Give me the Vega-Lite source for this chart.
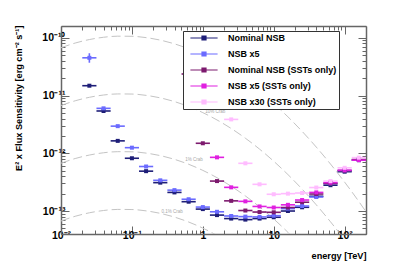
{
  "$schema": "https://vega.github.io/schema/vega-lite/v6.json",
  "width": 305,
  "height": 208,
  "autosize": {"type": "none"},
  "padding": {"left": 61, "top": 26, "right": 41, "bottom": 27},
  "background": "white",
  "config": {
    "view": {"stroke": null},
    "font": "Liberation Sans",
    "axis": {"domainColor": "#666", "domainWidth": 1.5, "tickColor": "#666", "grid": false,
      "labelFont": "Liberation Sans", "labelFontWeight": "bold", "labelFontSize": 10.5, "labelColor": "black",
      "titleFont": "Liberation Sans", "titleFontWeight": "bold", "titleFontSize": 9.2, "titleColor": "black"}
  },
  "datasets": {
    "crab": [
      {"c": "100%", "E": 0.01, "S": 6.725e-11}, {"c": "100%", "E": 0.01585, "S": 8.11e-11}, {"c": "100%", "E": 0.02512, "S": 9.318e-11}, {"c": "100%", "E": 0.03981, "S": 1.0207e-10}, {"c": "100%", "E": 0.0631, "S": 1.0659e-10}, {"c": "100%", "E": 0.1, "S": 1.061e-10}, {"c": "100%", "E": 0.1585, "S": 1.0067e-10}, {"c": "100%", "E": 0.2512, "S": 9.109e-11}, {"c": "100%", "E": 0.3981, "S": 7.852e-11}, {"c": "100%", "E": 0.631, "S": 6.453e-11}, {"c": "100%", "E": 1, "S": 5.055e-11}, {"c": "100%", "E": 1.585, "S": 3.776e-11}, {"c": "100%", "E": 2.512, "S": 2.688e-11}, {"c": "100%", "E": 3.981, "S": 1.824e-11}, {"c": "100%", "E": 6.31, "S": 1.18e-11}, {"c": "100%", "E": 10, "S": 7.277e-12}, {"c": "100%", "E": 15.85, "S": 4.277e-12}, {"c": "100%", "E": 25.12, "S": 2.396e-12}, {"c": "100%", "E": 39.81, "S": 1.28e-12}, {"c": "100%", "E": 63.1, "S": 6.516e-13}, {"c": "100%", "E": 100, "S": 3.162e-13}, {"c": "100%", "E": 158.5, "S": 1.463e-13}, {"c": "100%", "E": 251.2, "S": 6.45e-14},
      {"c": "10%", "E": 0.01, "S": 6.725e-12}, {"c": "10%", "E": 0.01585, "S": 8.11e-12}, {"c": "10%", "E": 0.02512, "S": 9.318e-12}, {"c": "10%", "E": 0.03981, "S": 1.0207e-11}, {"c": "10%", "E": 0.0631, "S": 1.0659e-11}, {"c": "10%", "E": 0.1, "S": 1.061e-11}, {"c": "10%", "E": 0.1585, "S": 1.0067e-11}, {"c": "10%", "E": 0.2512, "S": 9.109e-12}, {"c": "10%", "E": 0.3981, "S": 7.852e-12}, {"c": "10%", "E": 0.631, "S": 6.453e-12}, {"c": "10%", "E": 1, "S": 5.055e-12}, {"c": "10%", "E": 1.585, "S": 3.776e-12}, {"c": "10%", "E": 2.512, "S": 2.688e-12}, {"c": "10%", "E": 3.981, "S": 1.824e-12}, {"c": "10%", "E": 6.31, "S": 1.18e-12}, {"c": "10%", "E": 10, "S": 7.277e-13}, {"c": "10%", "E": 15.85, "S": 4.277e-13}, {"c": "10%", "E": 25.12, "S": 2.396e-13}, {"c": "10%", "E": 39.81, "S": 1.28e-13}, {"c": "10%", "E": 63.1, "S": 6.516e-14}, {"c": "10%", "E": 100, "S": 3.162e-14}, {"c": "10%", "E": 158.5, "S": 1.463e-14},
      {"c": "1%", "E": 0.01, "S": 6.725e-13}, {"c": "1%", "E": 0.01585, "S": 8.11e-13}, {"c": "1%", "E": 0.02512, "S": 9.318e-13}, {"c": "1%", "E": 0.03981, "S": 1.0207e-12}, {"c": "1%", "E": 0.0631, "S": 1.0659e-12}, {"c": "1%", "E": 0.1, "S": 1.061e-12}, {"c": "1%", "E": 0.1585, "S": 1.0067e-12}, {"c": "1%", "E": 0.2512, "S": 9.109e-13}, {"c": "1%", "E": 0.3981, "S": 7.852e-13}, {"c": "1%", "E": 0.631, "S": 6.453e-13}, {"c": "1%", "E": 1, "S": 5.055e-13}, {"c": "1%", "E": 1.585, "S": 3.776e-13}, {"c": "1%", "E": 2.512, "S": 2.688e-13}, {"c": "1%", "E": 3.981, "S": 1.824e-13}, {"c": "1%", "E": 6.31, "S": 1.18e-13}, {"c": "1%", "E": 10, "S": 7.277e-14}, {"c": "1%", "E": 15.85, "S": 4.277e-14}, {"c": "1%", "E": 25.12, "S": 2.396e-14},
      {"c": "0.1%", "E": 0.01, "S": 6.725e-14}, {"c": "0.1%", "E": 0.01585, "S": 8.11e-14}, {"c": "0.1%", "E": 0.02512, "S": 9.318e-14}, {"c": "0.1%", "E": 0.03981, "S": 1.0207e-13}, {"c": "0.1%", "E": 0.0631, "S": 1.0659e-13}, {"c": "0.1%", "E": 0.1, "S": 1.061e-13}, {"c": "0.1%", "E": 0.1585, "S": 1.0067e-13}, {"c": "0.1%", "E": 0.2512, "S": 9.109e-14}, {"c": "0.1%", "E": 0.3981, "S": 7.852e-14}, {"c": "0.1%", "E": 0.631, "S": 6.453e-14}, {"c": "0.1%", "E": 1, "S": 5.055e-14}, {"c": "0.1%", "E": 1.585, "S": 3.776e-14}, {"c": "0.1%", "E": 2.512, "S": 2.688e-14}
    ],
    "crablab": [
      {"t": "10% Crab", "E": 1.5, "S": 5.2e-12},
      {"t": "1% Crab", "E": 0.75, "S": 7.6e-13},
      {"t": "0.1% Crab", "E": 0.37, "S": 9.6e-14}
    ],
    "pts": [
      {"s": "Nominal NSB", "E": 0.02512, "lo": 0.01995, "hi": 0.03162, "S": 1.48e-11},
      {"s": "Nominal NSB", "E": 0.03981, "lo": 0.03162, "hi": 0.05012, "S": 5.4e-12},
      {"s": "Nominal NSB", "E": 0.0631, "lo": 0.05012, "hi": 0.07943, "S": 1.64e-12},
      {"s": "Nominal NSB", "E": 0.1, "lo": 0.07943, "hi": 0.1259, "S": 8.2e-13},
      {"s": "Nominal NSB", "E": 0.1585, "lo": 0.1259, "hi": 0.1995, "S": 4.9e-13},
      {"s": "Nominal NSB", "E": 0.2512, "lo": 0.1995, "hi": 0.3162, "S": 3.1e-13},
      {"s": "Nominal NSB", "E": 0.3981, "lo": 0.3162, "hi": 0.5012, "S": 2.1e-13},
      {"s": "Nominal NSB", "E": 0.631, "lo": 0.5012, "hi": 0.7943, "S": 1.45e-13},
      {"s": "Nominal NSB", "E": 1, "lo": 0.7943, "hi": 1.259, "S": 1.08e-13},
      {"s": "Nominal NSB", "E": 1.585, "lo": 1.259, "hi": 1.995, "S": 8.5e-14},
      {"s": "Nominal NSB", "E": 2.512, "lo": 1.995, "hi": 3.162, "S": 7.4e-14},
      {"s": "Nominal NSB", "E": 3.981, "lo": 3.162, "hi": 5.012, "S": 7.1e-14},
      {"s": "Nominal NSB", "E": 6.31, "lo": 5.012, "hi": 7.943, "S": 7.4e-14},
      {"s": "Nominal NSB", "E": 10, "lo": 7.943, "hi": 12.59, "S": 7.8e-14},
      {"s": "Nominal NSB", "E": 15.85, "lo": 12.59, "hi": 19.95, "S": 1.0e-13},
      {"s": "Nominal NSB", "E": 25.12, "lo": 19.95, "hi": 31.62, "S": 1.16e-13},
      {"s": "Nominal NSB", "E": 39.81, "lo": 31.62, "hi": 50.12, "S": 1.8e-13},
      {"s": "Nominal NSB", "E": 63.1, "lo": 50.12, "hi": 79.43, "S": 2.8e-13},
      {"s": "Nominal NSB", "E": 100, "lo": 79.43, "hi": 125.9, "S": 4.8e-13},
      {"s": "Nominal NSB", "E": 158.5, "lo": 125.9, "hi": 199.5, "S": 7.6e-13},
      {"s": "NSB x5", "E": 0.02512, "lo": 0.01995, "hi": 0.03162, "S": 4.5e-11, "elo": 3.7e-11, "ehi": 5.4e-11},
      {"s": "NSB x5", "E": 0.03981, "lo": 0.03162, "hi": 0.05012, "S": 6.0e-12},
      {"s": "NSB x5", "E": 0.0631, "lo": 0.05012, "hi": 0.07943, "S": 2.95e-12},
      {"s": "NSB x5", "E": 0.1, "lo": 0.07943, "hi": 0.1259, "S": 1.25e-12},
      {"s": "NSB x5", "E": 0.1585, "lo": 0.1259, "hi": 0.1995, "S": 5.9e-13},
      {"s": "NSB x5", "E": 0.2512, "lo": 0.1995, "hi": 0.3162, "S": 3.4e-13},
      {"s": "NSB x5", "E": 0.3981, "lo": 0.3162, "hi": 0.5012, "S": 2.3e-13},
      {"s": "NSB x5", "E": 0.631, "lo": 0.5012, "hi": 0.7943, "S": 1.6e-13},
      {"s": "NSB x5", "E": 1, "lo": 0.7943, "hi": 1.259, "S": 1.17e-13},
      {"s": "NSB x5", "E": 1.585, "lo": 1.259, "hi": 1.995, "S": 9.7e-14},
      {"s": "NSB x5", "E": 2.512, "lo": 1.995, "hi": 3.162, "S": 8.2e-14},
      {"s": "NSB x5", "E": 3.981, "lo": 3.162, "hi": 5.012, "S": 8.0e-14},
      {"s": "NSB x5", "E": 6.31, "lo": 5.012, "hi": 7.943, "S": 7.9e-14},
      {"s": "NSB x5", "E": 10, "lo": 7.943, "hi": 12.59, "S": 8.3e-14},
      {"s": "NSB x5", "E": 15.85, "lo": 12.59, "hi": 19.95, "S": 1.1e-13},
      {"s": "NSB x5", "E": 25.12, "lo": 19.95, "hi": 31.62, "S": 1.22e-13},
      {"s": "NSB x5", "E": 39.81, "lo": 31.62, "hi": 50.12, "S": 1.75e-13},
      {"s": "NSB x5", "E": 63.1, "lo": 50.12, "hi": 79.43, "S": 3.0e-13},
      {"s": "NSB x5", "E": 100, "lo": 79.43, "hi": 125.9, "S": 5.0e-13},
      {"s": "NSB x5", "E": 158.5, "lo": 125.9, "hi": 199.5, "S": 7.7e-13},
      {"s": "Nominal NSB (SSTs only)", "E": 0.631, "lo": 0.5012, "hi": 0.7943, "S": 2.36e-11},
      {"s": "Nominal NSB (SSTs only)", "E": 1, "lo": 0.7943, "hi": 1.259, "S": 1.49e-12},
      {"s": "Nominal NSB (SSTs only)", "E": 1.585, "lo": 1.259, "hi": 1.995, "S": 3.3e-13},
      {"s": "Nominal NSB (SSTs only)", "E": 2.512, "lo": 1.995, "hi": 3.162, "S": 1.5e-13},
      {"s": "Nominal NSB (SSTs only)", "E": 3.981, "lo": 3.162, "hi": 5.012, "S": 1.02e-13},
      {"s": "Nominal NSB (SSTs only)", "E": 6.31, "lo": 5.012, "hi": 7.943, "S": 9.6e-14},
      {"s": "Nominal NSB (SSTs only)", "E": 10, "lo": 7.943, "hi": 12.59, "S": 9.5e-14},
      {"s": "Nominal NSB (SSTs only)", "E": 15.85, "lo": 12.59, "hi": 19.95, "S": 1.15e-13},
      {"s": "Nominal NSB (SSTs only)", "E": 25.12, "lo": 19.95, "hi": 31.62, "S": 1.42e-13},
      {"s": "Nominal NSB (SSTs only)", "E": 39.81, "lo": 31.62, "hi": 50.12, "S": 1.97e-13},
      {"s": "Nominal NSB (SSTs only)", "E": 63.1, "lo": 50.12, "hi": 79.43, "S": 3.0e-13},
      {"s": "Nominal NSB (SSTs only)", "E": 100, "lo": 79.43, "hi": 125.9, "S": 5.0e-13},
      {"s": "Nominal NSB (SSTs only)", "E": 158.5, "lo": 125.9, "hi": 199.5, "S": 7.8e-13},
      {"s": "NSB x5 (SSTs only)", "E": 1.585, "lo": 1.259, "hi": 1.995, "S": 8.5e-13},
      {"s": "NSB x5 (SSTs only)", "E": 2.512, "lo": 1.995, "hi": 3.162, "S": 2.57e-13},
      {"s": "NSB x5 (SSTs only)", "E": 3.981, "lo": 3.162, "hi": 5.012, "S": 1.47e-13},
      {"s": "NSB x5 (SSTs only)", "E": 6.31, "lo": 5.012, "hi": 7.943, "S": 1.2e-13},
      {"s": "NSB x5 (SSTs only)", "E": 10, "lo": 7.943, "hi": 12.59, "S": 1.15e-13},
      {"s": "NSB x5 (SSTs only)", "E": 15.85, "lo": 12.59, "hi": 19.95, "S": 1.28e-13},
      {"s": "NSB x5 (SSTs only)", "E": 25.12, "lo": 19.95, "hi": 31.62, "S": 1.55e-13},
      {"s": "NSB x5 (SSTs only)", "E": 39.81, "lo": 31.62, "hi": 50.12, "S": 2.1e-13},
      {"s": "NSB x5 (SSTs only)", "E": 63.1, "lo": 50.12, "hi": 79.43, "S": 3.1e-13},
      {"s": "NSB x5 (SSTs only)", "E": 100, "lo": 79.43, "hi": 125.9, "S": 5.1e-13},
      {"s": "NSB x5 (SSTs only)", "E": 158.5, "lo": 125.9, "hi": 199.5, "S": 7.6e-13},
      {"s": "NSB x30 (SSTs only)", "E": 2.512, "lo": 1.995, "hi": 3.162, "S": 3.86e-12},
      {"s": "NSB x30 (SSTs only)", "E": 3.981, "lo": 3.162, "hi": 5.012, "S": 6.7e-13},
      {"s": "NSB x30 (SSTs only)", "E": 6.31, "lo": 5.012, "hi": 7.943, "S": 2.9e-13},
      {"s": "NSB x30 (SSTs only)", "E": 10, "lo": 7.943, "hi": 12.59, "S": 1.95e-13},
      {"s": "NSB x30 (SSTs only)", "E": 15.85, "lo": 12.59, "hi": 19.95, "S": 2.0e-13},
      {"s": "NSB x30 (SSTs only)", "E": 25.12, "lo": 19.95, "hi": 31.62, "S": 2.05e-13},
      {"s": "NSB x30 (SSTs only)", "E": 39.81, "lo": 31.62, "hi": 50.12, "S": 2.55e-13},
      {"s": "NSB x30 (SSTs only)", "E": 63.1, "lo": 50.12, "hi": 79.43, "S": 3.3e-13},
      {"s": "NSB x30 (SSTs only)", "E": 100, "lo": 79.43, "hi": 125.9, "S": 5.6e-13},
      {"s": "NSB x30 (SSTs only)", "E": 158.5, "lo": 125.9, "hi": 199.5, "S": 8.4e-13}
    ]
  },
  "resolve": {"axis": {"x": "independent", "y": "independent"}},
  "layer": [
    {
      "data": {"name": "crab"},
      "mark": {"type": "line", "clip": true, "color": "#c4c4c4", "strokeWidth": 1, "strokeDash": [9, 4], "interpolate": "monotone"},
      "encoding": {
        "x": {"field": "E", "type": "quantitative",
          "scale": {"type": "log", "domain": [0.01, 200], "nice": false},
          "axis": {"orient": "bottom", "title": "energy [TeV]", "titleAnchor": "end", "titleAlign": "right", "titleX": 305, "titleY": 24, "titleBaseline": "alphabetic",
            "values": [0.01,0.02,0.03,0.04,0.05,0.06,0.07,0.08,0.09,0.1,0.2,0.3,0.4,0.5,0.6,0.7,0.8,0.9,1,2,3,4,5,6,7,8,9,10,20,30,40,50,60,70,80,90,100,200],
            "tickSize": {"condition": {"test": "indexof([0.01,0.1,1,10,100], datum.value) >= 0", "value": -8}, "value": -4},
            "labelExpr": "datum.value == 0.01 ? '10⁻²' : datum.value == 0.1 ? '10⁻¹' : datum.value == 1 ? '1' : datum.value == 10 ? '10' : datum.value == 100 ? '10²' : ''",
            "labelPadding": 4, "labelFlush": false, "labelOverlap": false}},
        "y": {"field": "S", "type": "quantitative",
          "scale": {"type": "log", "domain": [4e-14, 1.6e-10], "nice": false},
          "axis": {"orient": "left", "title": "E² x Flux Sensitivity [erg cm⁻² s⁻¹]", "titleAnchor": "end", "titleAlign": "right", "titleAngle": -90, "titleX": -40, "titleY": -1, "titleBaseline": "alphabetic",
            "values": [4e-14,5e-14,6e-14,7e-14,8e-14,9e-14,1e-13,2e-13,3e-13,4e-13,5e-13,6e-13,7e-13,8e-13,9e-13,1e-12,2e-12,3e-12,4e-12,5e-12,6e-12,7e-12,8e-12,9e-12,1e-11,2e-11,3e-11,4e-11,5e-11,6e-11,7e-11,8e-11,9e-11,1e-10],
            "tickSize": {"condition": {"test": "indexof([1e-13,1e-12,1e-11,1e-10], datum.value) >= 0", "value": -8}, "value": -4},
            "labelExpr": "datum.value == 1e-13 ? '10⁻¹³' : datum.value == 1e-12 ? '10⁻¹²' : datum.value == 1e-11 ? '10⁻¹¹' : datum.value == 1e-10 ? '10⁻¹⁰' : ''",
            "labelPadding": 4, "labelFlush": false, "labelOverlap": false}},
        "detail": {"field": "c"}
      }
    },
    {
      "data": {"name": "crablab"},
      "mark": {"type": "text", "fontSize": 4.5, "color": "#a8a8a8", "align": "center", "baseline": "middle"},
      "encoding": {
        "x": {"field": "E", "type": "quantitative",
          "axis": {"orient": "top", "labels": false, "title": null,
            "values": [0.01,0.02,0.03,0.04,0.05,0.06,0.07,0.08,0.09,0.1,0.2,0.3,0.4,0.5,0.6,0.7,0.8,0.9,1,2,3,4,5,6,7,8,9,10,20,30,40,50,60,70,80,90,100,200],
            "tickSize": {"condition": {"test": "indexof([0.01,0.1,1,10,100], datum.value) >= 0", "value": -8}, "value": -4}}},
        "y": {"field": "S", "type": "quantitative",
          "axis": {"orient": "right", "labels": false, "title": null,
            "values": [4e-14,5e-14,6e-14,7e-14,8e-14,9e-14,1e-13,2e-13,3e-13,4e-13,5e-13,6e-13,7e-13,8e-13,9e-13,1e-12,2e-12,3e-12,4e-12,5e-12,6e-12,7e-12,8e-12,9e-12,1e-11,2e-11,3e-11,4e-11,5e-11,6e-11,7e-11,8e-11,9e-11,1e-10],
            "tickSize": {"condition": {"test": "indexof([1e-13,1e-12,1e-11,1e-10], datum.value) >= 0", "value": -8}, "value": -4}}},
        "text": {"field": "t"}
      }
    },
    {
      "data": {"name": "pts"},
      "mark": {"type": "rule", "clip": true, "strokeWidth": 1.6},
      "encoding": {
        "x": {"field": "lo", "type": "quantitative", "axis": null},
        "x2": {"field": "hi"},
        "y": {"field": "S", "type": "quantitative", "axis": null},
        "color": {"field": "s", "type": "nominal",
          "scale": {"domain": ["Nominal NSB", "NSB x5", "Nominal NSB (SSTs only)", "NSB x5 (SSTs only)", "NSB x30 (SSTs only)"],
            "range": ["#1e1e78", "#6b6bff", "#7d1a6e", "#e020e0", "#ffbcff"]}}
      }
    },
    {
      "data": {"name": "pts"},
      "transform": [{"filter": "isValid(datum.elo)"}],
      "mark": {"type": "rule", "clip": true, "strokeWidth": 1.6},
      "encoding": {
        "x": {"field": "E", "type": "quantitative", "axis": null},
        "y": {"field": "elo", "type": "quantitative", "axis": null},
        "y2": {"field": "ehi"},
        "color": {"field": "s", "type": "nominal"}
      }
    },
    {
      "data": {"name": "pts"},
      "mark": {"type": "square", "opacity": 1, "size": 16, "clip": true},
      "encoding": {
        "x": {"field": "E", "type": "quantitative", "axis": null},
        "y": {"field": "S", "type": "quantitative", "axis": null},
        "color": {"field": "s", "type": "nominal",
          "legend": {"orient": "none", "legendX": 122, "legendY": 5, "title": null,
            "padding": 2, "fillColor": "white", "strokeColor": "#333",
            "symbolType": "M-3.4,0H3.4M-0.5,-0.5H0.5V0.5H-0.5Z", "symbolSize": 64, "symbolOffset": 14,
            "symbolStrokeWidth": 1.2,
            "labelOffset": 19, "labelFont": "Liberation Sans", "labelFontWeight": "bold", "labelFontSize": 9, "labelColor": "black",
            "labelExpr": "datum.label + '\u00a0\u00a0\u00a0\u00a0'", "labelLimit": 300,
            "rowPadding": 6}}
      }
    }
  ]
}
